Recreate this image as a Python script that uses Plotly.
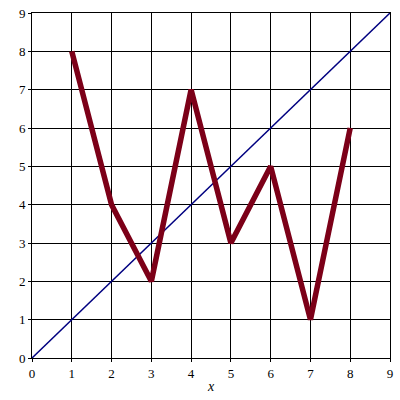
import plotly.graph_objects as go

x_vals = [1, 2, 3, 4, 5, 6, 7, 8]
y_vals = [8, 4, 2, 7, 3, 5, 1, 6]
diag_x = [0, 9]
diag_y = [0, 9]
ticks = list(range(0, 10))

FONT = "Times New Roman, Liberation Serif, serif"

fig = go.Figure()
fig.add_trace(go.Scatter(x=diag_x, y=diag_y, mode="lines",
                         line=dict(color="#000080", width=1.5), showlegend=False,
                         cliponaxis=False))
fig.add_trace(go.Scatter(x=x_vals, y=y_vals, mode="lines",
                         line=dict(color="#7c0018", width=5.5), showlegend=False))

axis_common = dict(range=[0, 9], tickvals=ticks, ticktext=[str(t) for t in ticks],
                   showgrid=True, gridcolor="black",
                   gridwidth=1, showline=True, linecolor="black", linewidth=1,
                   mirror=True, zeroline=False, ticks="outside", ticklen=3,
                   tickcolor="black", tickwidth=1, automargin=False,
                   tickfont=dict(family=FONT, size=13, color="black"))
fig.update_xaxes(**axis_common, title=dict(text="<i>x</i>", standoff=1,
                 font=dict(family=FONT, size=14, color="black")))
fig.update_yaxes(**axis_common)

fig.update_layout(width=400, height=400,
                  margin=dict(l=32, r=10, t=13, b=42, autoexpand=False),
                  plot_bgcolor="white", paper_bgcolor="white",
                  font=dict(family=FONT))
fig.write_html("out.html", config={"displayModeBar": False},
               post_script="document.body.style.margin='0';document.body.style.padding='0';")
